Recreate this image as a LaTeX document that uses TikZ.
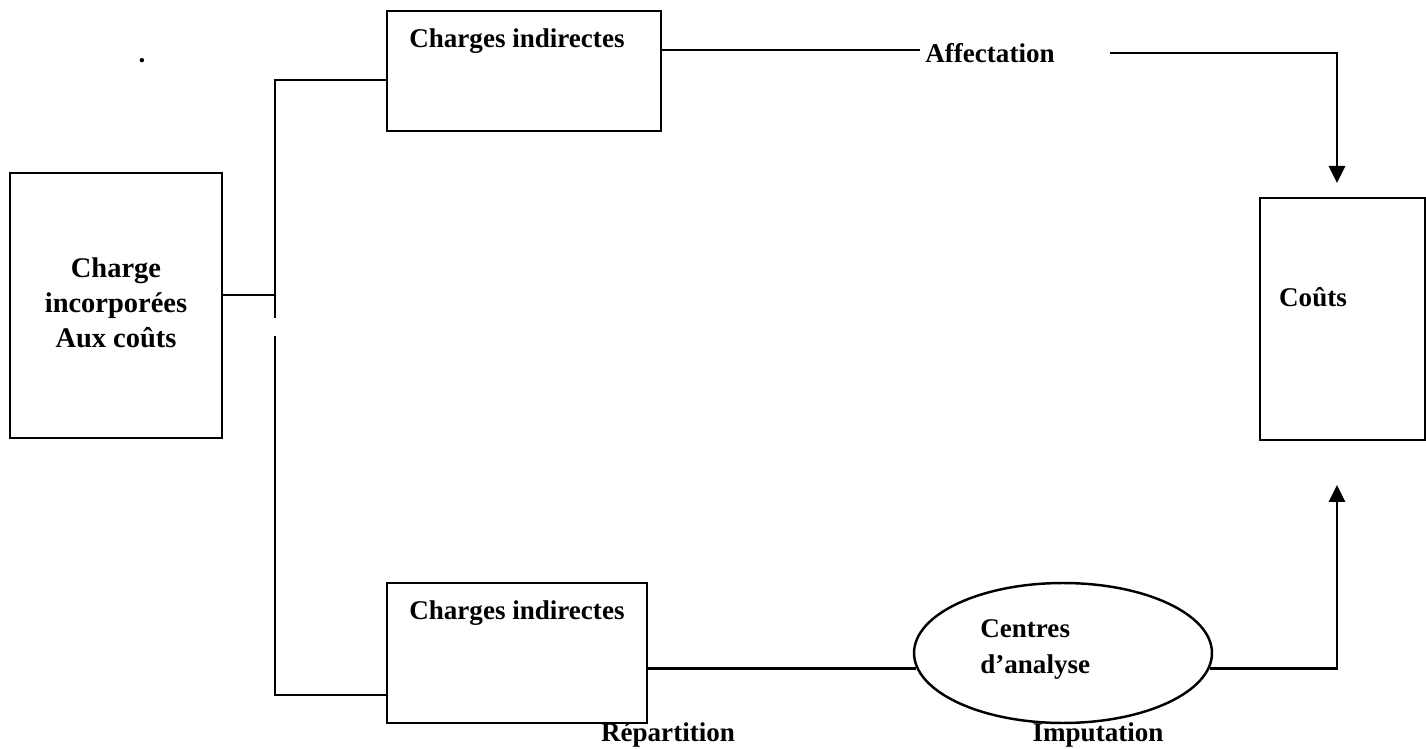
\documentclass[tikz,border=0pt]{standalone}
\usepackage{fontspec}
\setmainfont{Liberation Serif}
\usetikzlibrary{arrows.meta,shapes.geometric}
\tikzset{
  box/.style={draw,line width=1.4pt,inner sep=0pt},
  lbl/.style={font=\fontsize{15.4}{20}\selectfont\bfseries,inner sep=0pt},
  link/.style={line width=1.6pt},
  arr/.style={link,-{Triangle[length=0.34cm,width=0.32cm]}}
}

\begin{document}
\begin{tikzpicture}[x=0.02cm,y=-0.02cm]
  \useasboundingbox (0,0) rectangle (1426,749);
  % boxes
  \node[box,minimum width=4.24cm,minimum height=5.3cm] (left) at (116,305.5) {};
  \node[lbl,align=center,font=\fontsize{16.2}{20}\selectfont\bfseries] (leftTxt) at (116,303) {Charge\\incorporées\\Aux coûts};
  \node[box,minimum width=5.48cm,minimum height=2.4cm] (top) at (524,71) {};
  \node[lbl,anchor=west] (topTxt) at (409,41) {Charges indirectes};
  \node[box,minimum width=5.2cm,minimum height=2.8cm] (bot) at (517,653) {};
  \node[lbl,anchor=west] (botTxt) at (409,613) {Charges indirectes};
  \node[box,ellipse,minimum width=5.96cm,minimum height=2.8cm] (cen) at (1063,653) {};
  \node[lbl,align=left,anchor=west] (cenTxt) at (980,649.5) {Centres\\d’analyse};
  \node[box,minimum width=3.3cm,minimum height=4.84cm] (cout) at (1342.5,319) {};
  \node[lbl] (coutTxt) at (1313,297) {Coûts};
  \node[lbl] (dot) at (142,61) {.};
  % labels
  \node[lbl] (aff) at (990,53) {Affectation};
  \node[lbl] (rep) at (668,735) {Répartition};
  \node[lbl] (imp) at (1098,735) {Imputation};
  % junction points
  \coordinate (jn) at (275,295);
  \coordinate (vTop) at (275,80);
  \coordinate (vBot) at (275,695);
  \coordinate (gapA) at (275,318);
  \coordinate (gapB) at (275,336);
  \coordinate (affL) at (920,50);
  \coordinate (affR) at (1110,53);
  \coordinate (inA) at (1337,183);
  \coordinate (inB) at (1337,485);
  % connectors
  \draw[link] (left.east |- jn) -- (jn);
  \draw[link] (top.west |- vTop) -- (vTop) -- (gapA);
  \draw[link] (gapB) -- (vBot) -- (bot.west |- vBot);
  \draw[link] (top.east |- affL) -- (affL);
  \draw[arr] (affR) -| (inA);
  \draw[link] (bot.east |- cen.186) -- (cen.186);
  \draw[arr] (cen.-6) -| (inB);
\end{tikzpicture}
\end{document}
